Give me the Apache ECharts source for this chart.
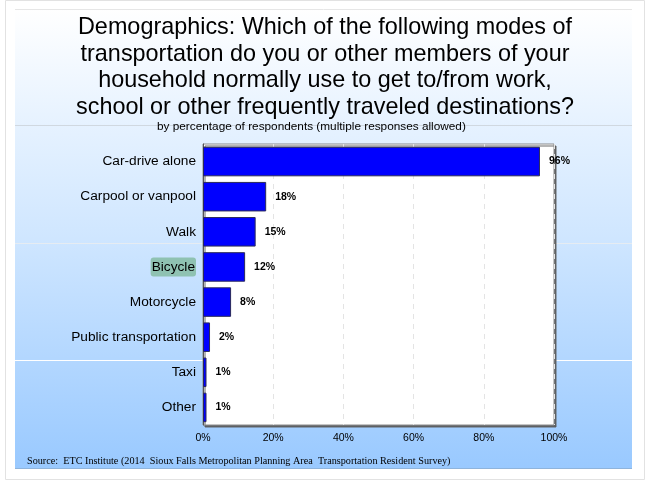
<!DOCTYPE html>
<html>
<head>
<meta charset="utf-8">
<script src="https://cdn.jsdelivr.net/npm/echarts@6/dist/echarts.min.js"></script>
<style>
  html, body { margin: 0; padding: 0; background: #fff; }
  #chart { width: 650px; height: 487px; }
</style>
</head>
<body>
<div id="chart"></div>
<script>
// categories from top to bottom, as in the picture
const modos = ['Car-drive alone', 'Carpool or vanpool', 'Walk', 'Bicycle',
  'Motorcycle', 'Public transportation', 'Taxi', 'Other'];
const porcentajes = [96, 18, 15, 12, 8, 2, 1, 1];
const ticks_x = [0, 20, 40, 60, 80, 100];

const titulo = 'Demographics: Which of the following modes of\n' +
  'transportation do you or other members of your\n' +
  'household normally use to get to/from work,\n' +
  'school or other frequently traveled destinations?';
const subtitulo = 'by percentage of respondents (multiple responses allowed)';
const fuente = 'Source:  ETC Institute (2014  Sioux Falls Metropolitan Planning Area  Transportation Resident Survey)';

var myChart = echarts.init(document.getElementById('chart'));

var option = {
    animation: false,
    textStyle: { fontFamily: 'Liberation Sans, Arial, sans-serif' },
    graphic: [
        // outer frame
        { type: 'rect', z: -10, shape: { x: 5.5, y: 0.5, width: 639, height: 479 },
          style: { fill: '#fff', stroke: '#e2e2e2', lineWidth: 1 } },
        // blue panel
        { type: 'rect', z: -9, shape: { x: 15, y: 9, width: 617, height: 460 },
          style: {
            fill: new echarts.graphic.LinearGradient(0, 0, 0, 1, [
                { offset: 0, color: '#ffffff' },
                { offset: 0.25, color: '#e6f2ff' },
                { offset: 0.5, color: '#cfe6ff' },
                { offset: 1, color: '#99c9ff' }
            ]),
            stroke: null
          } },
        { type: 'line', z: -8, shape: { x1: 15, y1: 9.5, x2: 632, y2: 9.5 },
          style: { stroke: '#e6e6e6', lineWidth: 1 } },
        { type: 'line', z: -8, shape: { x1: 15, y1: 125.5, x2: 632, y2: 125.5 },
          style: { stroke: '#d0d8e0', lineWidth: 1 } },
        { type: 'line', z: -8, shape: { x1: 15, y1: 243.5, x2: 632, y2: 243.5 },
          style: { stroke: '#e6ecf2', lineWidth: 1 } },
        { type: 'line', z: -8, shape: { x1: 15, y1: 360.5, x2: 632, y2: 360.5 },
          style: { stroke: '#ffffff', lineWidth: 1 } },
        { type: 'line', z: -8, shape: { x1: 15, y1: 468.5, x2: 632, y2: 468.5 },
          style: { stroke: '#8fb4dc', lineWidth: 1 } },
        // texts
        { type: 'text', left: 'center', top: 14,
          style: { text: titulo, font: '23.4px "Liberation Sans", Arial, sans-serif',
                   fill: '#000', textAlign: 'center', lineHeight: 26.7 } },
        { type: 'text', left: 157, top: 121,
          style: { text: subtitulo, font: '11.8px "Liberation Sans", Arial, sans-serif', fill: '#000' } },
        { type: 'text', left: 27, top: 456,
          style: { text: fuente, font: '10.2px "Liberation Serif", "Times New Roman", serif', fill: '#000' } }
    ],
    grid: {
        left: 203, right: 96, top: 144, bottom: 62,
        show: true,
        backgroundColor: '#fff',
        borderColor: '#8a8a8a',
        borderWidth: 1,
        shadowColor: 'rgba(90,90,90,0.9)',
        shadowOffsetX: 2,
        shadowOffsetY: 2,
        shadowBlur: 0
    },
    xAxis: {
        type: 'value',
        min: ticks_x[0],
        max: ticks_x[ticks_x.length - 1],
        interval: 20,
        axisLine: { show: false },
        axisTick: { show: false },
        axisLabel: { formatter: '{value}%', fontSize: 10.5, color: '#000', margin: 8 },
        splitLine: { show: true, lineStyle: { color: '#e4e4e4', type: [5, 5], width: 1 } }
    },
    yAxis: {
        type: 'category',
        inverse: true,
        data: modos,
        axisLine: { show: true, lineStyle: { color: '#555', width: 1 } },
        axisTick: { show: false },
        axisLabel: {
            fontSize: 13.7, color: '#000', margin: 7,
            formatter: function (v) {
                return v === 'Bicycle' ? '{hl|' + v + '}' : v;
            },
            rich: {
                hl: { fontSize: 13.7, color: '#000', backgroundColor: '#8fc2b2',
                      borderRadius: 3, padding: [3, 1, 2, 1] }
            }
        }
    },
    series: [{
        type: 'bar',
        data: porcentajes,
        barCategoryGap: '16%',
        itemStyle: { color: '#0000ff', borderColor: '#2a2a5a', borderWidth: 1 },
        label: {
            show: true, position: 'right', distance: 9,
            formatter: '{c}%', fontSize: 10.5, fontWeight: 'bold', color: '#000'
        }
    }]
};

myChart.setOption(option);
</script>
</body>
</html>
